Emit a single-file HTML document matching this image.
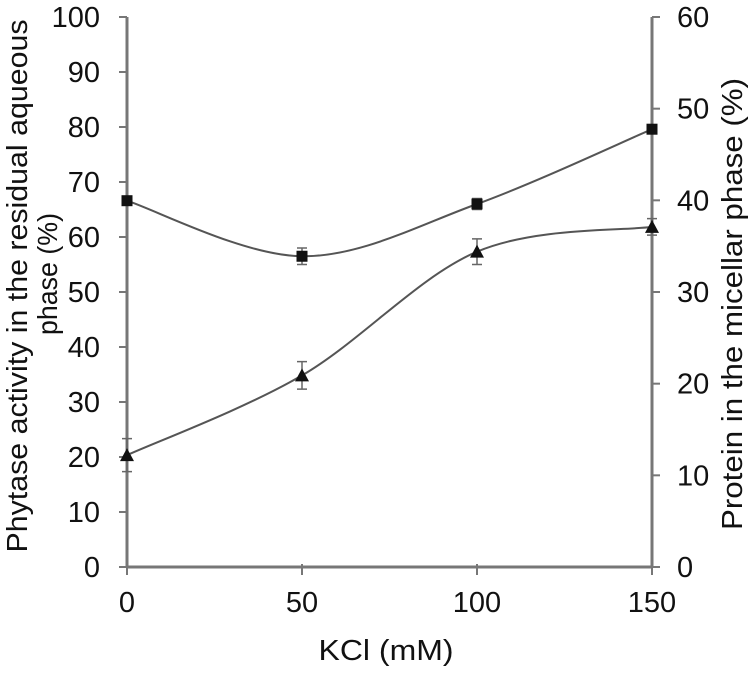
<!DOCTYPE html>
<html><head><meta charset="utf-8"><style>
html,body{margin:0;padding:0;background:#fff;}
svg text{font-family:"Liberation Sans",Arial,sans-serif;fill:#111;}
</style></head><body>
<svg id="chart" width="754" height="673" viewBox="0 0 754 673" xmlns="http://www.w3.org/2000/svg">
<g id="axes"></g><g id="series"></g>
<text x="386" y="660" font-size="29" text-anchor="middle" textLength="135" lengthAdjust="spacingAndGlyphs">KCl (mM)</text>
<text transform="translate(27,286) rotate(-90)" font-size="29" text-anchor="middle" textLength="533" lengthAdjust="spacingAndGlyphs">Phytase activity in the residual aqueous</text>
<text transform="translate(57,274) rotate(-90)" font-size="28" text-anchor="middle" textLength="122" lengthAdjust="spacingAndGlyphs">phase (%)</text>
<text transform="translate(742,304) rotate(-90)" font-size="29" text-anchor="middle" textLength="452" lengthAdjust="spacingAndGlyphs">Protein in the micellar phase (%)</text>
</svg>
<script>
const categories=[0,50,100,150];
const phytase=[66.6,56.5,66,79.6];
const phytaseErr=[0.8,1.5,1,0.8];
const protein=[12.2,20.9,34.4,37.1];
const proteinErr=[1.8,1.5,1.4,0.9];
const leftTicks=[0,10,20,30,40,50,60,70,80,90,100];
const rightTicks=[0,10,20,30,40,50,60];
const xTicks=[0,50,100,150];
const NS="http://www.w3.org/2000/svg";
const X0=127,X1=652,Y0=567,Y1=17;
const xs=v=>X0+(v-0)/150*(X1-X0);
const yl=v=>Y0-v/100*(Y0-Y1);
const yr=v=>Y0-v/60*(Y0-Y1);
function mk(t,a,p){const e=document.createElementNS(NS,t);for(const k in a)e.setAttribute(k,a[k]);p.appendChild(e);return e;}
const ax=document.getElementById('axes'),se=document.getElementById('series');
const ac='#777';
let e;
e=mk('line',{x1:X0,y1:Y1,x2:X0,y2:Y0,stroke:ac,'stroke-width':3},ax);

e=mk('line',{x1:X1,y1:Y1,x2:X1,y2:Y0,stroke:ac,'stroke-width':3},ax);

e=mk('line',{x1:X0,y1:Y0,x2:X1,y2:Y0,stroke:ac,'stroke-width':3},ax);

leftTicks.forEach(v=>{const y=yl(v);
 e=mk('line',{x1:X0-8,y1:y,x2:X0,y2:y,stroke:ac,'stroke-width':2},ax);
 
 e=mk('text',{x:X0-27,y:y+10,'font-size':29,'text-anchor':'end'},ax);e.textContent=v;
 });
rightTicks.forEach(v=>{const y=yr(v);
 e=mk('line',{x1:X1,y1:y,x2:X1+8,y2:y,stroke:ac,'stroke-width':2},ax);
 
 e=mk('text',{x:X1+25,y:y+10,'font-size':29,'text-anchor':'start'},ax);e.textContent=v;
 });
xTicks.forEach(v=>{const x=xs(v);
 e=mk('line',{x1:x,y1:Y0-3,x2:x,y2:Y0+8,stroke:ac,'stroke-width':2},ax);
 
 e=mk('text',{x:x,y:Y0+45,'font-size':29,'text-anchor':'middle'},ax);e.textContent=v;
 });
function spline(p){let d=`M${p[0][0]},${p[0][1]}`;
 for(let i=0;i<p.length-1;i++){const a=p[i-1]||p[i],b=p[i],c=p[i+1],f=p[i+2]||c;
  d+=` C${b[0]+(c[0]-a[0])/6},${b[1]+(c[1]-a[1])/6} ${c[0]-(f[0]-b[0])/6},${c[1]-(f[1]-b[1])/6} ${c[0]},${c[1]}`;}
 return d;}
function draw(vals,errs,yf,shape,name){
 const pts=categories.map((c,i)=>[xs(c),yf(vals[i])]);
 e=mk('path',{d:spline(pts),fill:'none',stroke:'#555','stroke-width':2},se);
 
 categories.forEach((c,i)=>{const x=xs(c),y=yf(vals[i]),t=yf(vals[i]+errs[i]),b=yf(vals[i]-errs[i]);
  e=mk('path',{d:`M${x},${t}V${b}M${x-5},${t}H${x+5}M${x-5},${b}H${x+5}`,stroke:'#666','stroke-width':1.5,fill:'none'},se);
  
  if(shape==='sq'){e=mk('rect',{x:x-5.5,y:y-5.5,width:11,height:11,fill:'#111'},se);}
  else{e=mk('polygon',{points:`${x},${y-7} ${x-7},${y+6} ${x+7},${y+6}`,fill:'#111'},se);}
  });}
draw(phytase,phytaseErr,yl,'sq','phytase');
draw(protein,proteinErr,yr,'tri','protein');
</script>
</body></html>
